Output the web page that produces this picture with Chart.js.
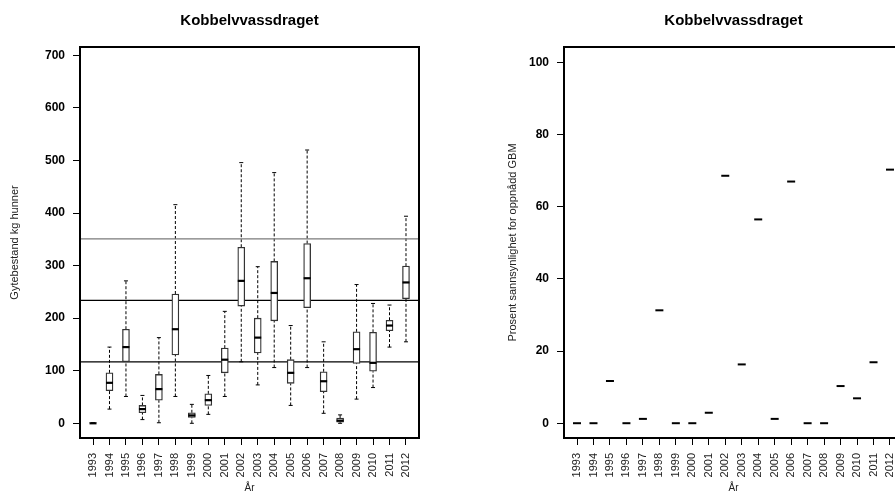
<!DOCTYPE html>
<html lang="no">
<head>
<meta charset="UTF-8">
<title>Kobbelvvassdraget</title>
<style>
  html, body { margin: 0; padding: 0; background: #fff; overflow: hidden; width: 895px; height: 492px; }
  .panel { position: absolute; top: 0; }
</style>
</head>
<body>
<div class="panel" style="left:0"><canvas id="venstre" width="447" height="492"></canvas></div>
<div class="panel" style="left:447px"><canvas id="hoyre" width="480" height="492"></canvas></div>

<script src="https://cdn.jsdelivr.net/npm/chart.js"></script>
<script>
// data lest av figuren
const aar = ['1993','1994','1995','1996','1997','1998','1999','2000','2001','2002',
             '2003','2004','2005','2006','2007','2008','2009','2010','2011','2012'];
const whiskerLow  = [0, 27, 51,  7,  1,  51,  0, 17,  51, 117,  73, 106,  34, 106, 19,  0,  46,  68, 145, 155];
const q1          = [0, 62, 117, 20, 44, 130, 11, 34,  96, 223, 134, 195,  76, 220, 60,  2, 114,  99, 176, 237];
const median      = [0, 77, 145, 27, 65, 179, 15, 44, 121, 271, 163, 248,  96, 276, 80,  5, 141, 115, 186, 268];
const q3          = [1, 96, 179, 34, 93, 246, 20, 56, 143, 335, 200, 308, 121, 342, 98, 10, 174, 173, 196, 299];
const whiskerHigh = [1, 145, 271, 53, 163, 416, 36, 91, 213, 496, 298, 477, 186, 520, 155, 16, 264, 228, 225, 394];
const gbmLinjer = [117, 234, 351];
const prosent = [0, 0, 11.7, 0, 1.2, 31.3, 0, 0, 2.9, 68.6, 16.3, 56.5, 1.2, 67.0, 0, 0, 10.3, 6.9, 16.9, 70.3];
const yTicksKg = [0, 100, 200, 300, 400, 500, 600, 700];
const yTicksProsent = [0, 20, 40, 60, 80, 100];

const FONT = "'Liberation Sans', Arial, Helvetica, sans-serif";
const X_MIN = -0.79, X_MAX = 19.79;

// ramme rundt plottet
const rammePlugin = {
  id: 'ramme',
  afterDatasetsDraw(chart) {
    const {ctx, chartArea: {left, top, right, bottom}} = chart;
    ctx.save();
    ctx.strokeStyle = '#000';
    ctx.lineWidth = 2;
    ctx.strokeRect(left, top, right - left, bottom - top);
    ctx.restore();
  }
};

function xAkse() {
  return {
    type: 'linear', min: X_MIN, max: X_MAX, offset: false,
    afterBuildTicks: s => { s.ticks = aar.map((a, i) => ({value: i})); },
    afterFit: s => { s.height = 54; },
    grid: { offset: false, drawOnChartArea: false, drawTicks: true, tickLength: 7, color: '#000', lineWidth: 1 },
    border: { display: false },
    ticks: { autoSkip: false, minRotation: 90, maxRotation: 90, padding: 8, color: '#222',
             font: { family: FONT, size: 11 }, callback: v => aar[v] },
    title: { display: true, text: 'År', color: '#222', font: { family: FONT, size: 10, lineHeight: 1 },
             padding: { top: 0, bottom: -1 } }
  };
}

function yAkse(min, max, ticks, bredde, tittel, tittelPad) {
  return {
    type: 'linear', min: min, max: max,
    afterBuildTicks: s => { s.ticks = ticks.map(v => ({value: v})); },
    afterFit: s => { s.width = bredde; },
    grid: { drawOnChartArea: false, drawTicks: true, tickLength: 7, color: '#000', lineWidth: 1 },
    border: { display: false },
    ticks: { padding: 8, color: '#000', font: { family: FONT, size: 12, weight: 'bold' }, callback: v => String(v) },
    title: { display: true, text: tittel, color: '#222', font: { family: FONT, size: 11, lineHeight: 1.2 },
             padding: { top: tittelPad, bottom: 0 } }
  };
}

function felles(padRight) {
  return {
    responsive: false,
    animation: false,
    events: [],
    layout: { padding: { left: 0, right: padRight, top: 0, bottom: 0 } },
    plugins: {
      legend: { display: false },
      tooltip: { enabled: false },
      title: { display: true, text: 'Kobbelvvassdraget', fullSize: false, color: '#000',
               font: { family: FONT, size: 15, weight: 'bold', lineHeight: 1.2 },
               padding: { top: 12, bottom: 17 } }
    }
  };
}

// venstre: boksplott
const boksData = aar.map((a, i) => ({x: i, y: [q1[i], q3[i]]}));
const whiskerData = [];
const capData = [];
aar.forEach((a, i) => {
  whiskerData.push({x: i, y: whiskerLow[i]}, {x: i, y: q1[i]}, {x: i, y: null},
                   {x: i, y: q3[i]}, {x: i, y: whiskerHigh[i]}, {x: i, y: null});
  capData.push({x: i, y: whiskerLow[i]}, {x: i, y: whiskerHigh[i]});
});
const linjeFarger = ['#000', '#000', '#7a7a7a'];

const venstreDatasets = [
  { type: 'line', data: whiskerData, borderColor: '#000', borderWidth: 1, borderDash: [3, 2],
    pointRadius: 0, fill: false, spanGaps: false, tension: 0, order: 5 },
  { type: 'bar', data: boksData, backgroundColor: '#fff', borderColor: '#333', borderWidth: 1.3,
    borderSkipped: false, barThickness: 7, grouped: false, order: 3 },
  { type: 'scatter', data: capData, pointStyle: 'line', pointRadius: 2, pointBorderWidth: 1,
    pointBorderColor: '#000', order: 2 },
  { type: 'scatter', data: median.map((m, i) => ({x: i, y: m})), pointStyle: 'line', pointRadius: 3.5,
    pointBorderWidth: 2.2, pointBorderColor: '#000', order: 1 }
];
gbmLinjer.forEach((v, k) => {
  venstreDatasets.push({ type: 'line', data: [{x: X_MIN, y: v}, {x: X_MAX, y: v}],
    borderColor: linjeFarger[k], borderWidth: 1.2, pointRadius: 0, fill: false, order: 4 });
});

const venstreOpts = felles(28);
venstreOpts.scales = {
  x: xAkse(),
  y: yAkse(-28, 716, yTicksKg, 80, 'Gytebestand kg hunner', 8.4)
};

new Chart(document.getElementById('venstre'), {
  type: 'scatter',
  data: { datasets: venstreDatasets },
  options: venstreOpts,
  plugins: [rammePlugin]
});

// høyre: sannsynlighet
const hoyreOpts = felles(24);
hoyreOpts.scales = {
  x: xAkse(),
  y: yAkse(-4.1, 104.3, yTicksProsent, 117, 'Prosent sannsynlighet for oppnådd GBM', 59.4)
};

new Chart(document.getElementById('hoyre'), {
  type: 'scatter',
  data: { datasets: [
    { data: prosent.map((p, i) => ({x: i, y: p})), pointStyle: 'line', pointRadius: 4,
      pointBorderWidth: 2, pointBorderColor: '#000' }
  ] },
  options: hoyreOpts,
  plugins: [rammePlugin]
});
</script>
</body>
</html>
